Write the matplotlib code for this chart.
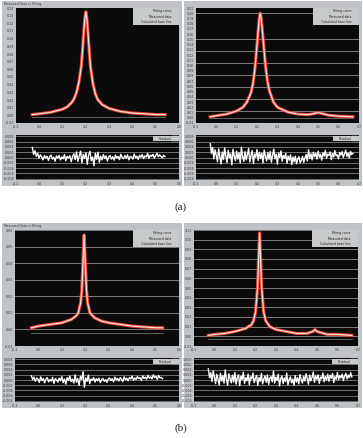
"""
Fitting results: measured data vs Lorentzian fit, with residuals.
Four instrument-style panels, (a) on top, (b) below.
"""
import matplotlib
matplotlib.use("Agg")
import matplotlib.pyplot as plt
from matplotlib.patches import Rectangle
import numpy as np

W, H = 363, 438
GRAY = "#bfc3c5"
PLOT_BG = "#0b0b0b"
RED = "#e5412f"
FIT = "#f6dede"
GRID = "#a8a8a8"
TXT = "#3a3a3a"

# ---------------- data ---------------- #
# (a) left: peak near 0.20
X_A_LEFT = [-0.03, 0.0, 0.05, 0.10, 0.12, 0.14, 0.15, 0.16, 0.17, 0.18, 0.185,
            0.19, 0.195, 0.20, 0.205, 0.21, 0.215, 0.22, 0.23, 0.24, 0.25,
            0.27, 0.30, 0.35, 0.40, 0.45, 0.50, 0.54]
FIT_A_LEFT = [0.001, 0.002, 0.004, 0.008, 0.011, 0.017, 0.022, 0.030, 0.043,
              0.063, 0.082, 0.104, 0.125, 0.135, 0.125, 0.104, 0.082, 0.063,
              0.042, 0.029, 0.021, 0.014, 0.009, 0.005, 0.003, 0.002, 0.001,
              0.001]
BASE_A_LEFT = [-0.002, -0.002]

# (a) right: wider peak near 0.215, small bump near 0.50
X_A_RIGHT = [-0.03, 0.0, 0.05, 0.10, 0.13, 0.15, 0.17, 0.18, 0.19, 0.20, 0.21,
             0.215, 0.22, 0.23, 0.24, 0.25, 0.26, 0.28, 0.30, 0.35, 0.40,
             0.45, 0.48, 0.50, 0.52, 0.55, 0.60, 0.67]
FIT_A_RIGHT = [0.002, 0.004, 0.007, 0.013, 0.020, 0.030, 0.048, 0.066, 0.097,
               0.142, 0.188, 0.200, 0.190, 0.148, 0.104, 0.072, 0.052, 0.030,
               0.020, 0.011, 0.007, 0.006, 0.008, 0.010, 0.008, 0.005, 0.003,
               0.002]
BASE_A_RIGHT = [-0.001, -0.001]

# (b) left: narrow peak near 0.195
X_B_LEFT = [-0.03, 0.0, 0.05, 0.10, 0.14, 0.16, 0.17, 0.18, 0.185, 0.19, 0.195,
            0.20, 0.205, 0.21, 0.22, 0.24, 0.27, 0.30, 0.40, 0.50, 0.53]
FIT_B_LEFT = [0.001, 0.002, 0.003, 0.004, 0.006, 0.008, 0.010, 0.016, 0.023,
              0.040, 0.057, 0.040, 0.024, 0.016, 0.010, 0.007, 0.005, 0.004,
              0.002, 0.001, 0.001]
BASE_B_LEFT = [-0.002, -0.002]

# (b) right: narrow peak near 0.22, small bump near 0.49
X_B_RIGHT = [-0.03, 0.0, 0.05, 0.10, 0.15, 0.18, 0.19, 0.20, 0.21, 0.215, 0.22,
             0.225, 0.23, 0.24, 0.25, 0.27, 0.30, 0.35, 0.40, 0.45, 0.48, 0.49,
             0.50, 0.55, 0.60, 0.67]
FIT_B_RIGHT = [0.001, 0.002, 0.003, 0.005, 0.008, 0.012, 0.016, 0.025, 0.050,
               0.080, 0.107, 0.080, 0.050, 0.025, 0.016, 0.010, 0.007, 0.005,
               0.003, 0.003, 0.005, 0.007, 0.005, 0.002, 0.002, 0.001]
BASE_B_RIGHT = [-0.003, -0.003]

# residuals, in units of 1e-3
RES_A_LEFT = [
    3.8, 1.2, 2.5, 0.4, 1.6, -0.3, 1.0, 0.2, -0.9, 0.7,
    -0.2, 0.5, -1.1, 0.3, 0.9, -0.6, 0.1, -1.4, 0.6, -0.3,
    0.8, -0.9, 0.2, -0.5, 1.1, -1.2, 0.4, -0.2, 0.7, -1.6,
    0.3, 1.4, -0.8, 2.1, -1.5, 0.6, 2.4, -2.0, 1.2, -0.4,
    1.8, -2.6, 0.9, 2.3, -1.3, 0.2, -3.1, 1.6, -0.7, 2.0,
    -1.8, 0.5, -0.9, 1.1, -0.4, 0.6, -1.3, 0.2, 0.8, -0.6,
    0.3, -1.0, 0.9, -0.2, 0.4, -0.8, 1.2, 0.0, -0.5, 0.7,
    -0.3, 1.0, -0.9, 0.4, 0.2, -0.6, 1.3, -0.1, 0.5, -0.7,
    0.8, 0.1, 1.1, -0.4, 0.6, 0.2, 1.5, -0.3, 0.9, 0.4,
    1.2, -0.2, 0.7, 1.6, 0.3, 1.0, 0.5, -0.1, 0.8, 0.4]
RES_A_RIGHT = [
    5.2, 1.5, 3.8, -0.5, 2.9, 0.8, -1.6, 3.3, 0.2, -2.4,
    2.1, -0.8, 3.6, 0.5, -1.9, 2.7, -0.2, 1.4, -2.8, 3.1,
    0.6, -1.2, 2.4, -0.6, 1.8, -2.1, 3.9, 0.3, -1.5, 2.2,
    -0.9, 1.1, 3.4, -1.7, 0.7, 2.6, -2.3, 1.3, 0.1, 3.0,
    -1.1, 2.0, -0.4, 1.6, -2.0, 2.8, 0.4, -1.3, 1.9, -0.7,
    2.3, -1.8, 0.9, 3.2, -0.5, 1.2, -2.5, 1.7, 0.0, 2.5,
    -1.4, 0.8, -0.3, 1.5, -2.2, 0.6, -1.0, 1.0, -2.7, 0.2,
    -1.6, 0.5, -2.4, -0.6, 0.3, -2.0, -1.1, 0.4, -1.8, -0.2,
    1.1, -1.3, 2.9, -0.4, 1.4, -0.9, 2.0, 0.3, 1.6, -0.6,
    2.4, 0.1, 1.2, -1.0, 1.8, 0.5, 2.7, -0.3, 1.3, 0.7,
    2.1, -0.8, 1.5, 0.2, 2.6, 0.6, 1.0, -0.5, 1.9, 0.9,
    2.2, 0.0, 1.4, 2.8, 0.4, 1.7, -0.2, 2.3, 1.1, 1.6]
RES_B_LEFT = [
    1.6, 0.2, 1.1, -0.5, 0.8, 0.3, -0.9, 1.2, -0.2, 0.6,
    -1.1, 0.4, 0.9, -0.7, 0.2, -0.4, 1.0, -1.3, 0.5, 0.1,
    -0.8, 0.7, -0.3, 1.3, -1.0, 0.4, -1.6, 0.9, -0.2, 1.5,
    -0.6, 0.3, -1.2, 2.0, -0.9, 0.6, -2.1, 1.4, 0.2, 3.2,
    -2.8, 0.8, -0.5, 1.9, -1.4, 0.4, -0.1, 0.9, -0.8, 0.5,
    -0.3, 0.7, -1.0, 0.2, 0.6, -0.5, 0.1, -0.9, 0.4, 0.8,
    -0.2, 0.5, -0.7, 1.1, 0.0, 0.6, -0.4, 0.9, 0.3, -0.6,
    1.2, 0.1, 0.7, -0.3, 1.0, 0.4, 1.5, -0.1, 0.8, 0.2,
    1.3, 0.5, 0.9, -0.2, 1.6, 0.6, 1.1, 0.3, 1.8, 0.7,
    1.2, 0.4, 2.0, 0.9, 1.4, 0.2, 1.7, 0.8, 1.0, 0.5]
RES_B_RIGHT = [
    4.3, 0.9, 2.8, -0.6, 3.5, 1.2, -1.4, 2.2, 0.3, -1.9,
    2.6, -0.4, 1.7, -1.2, 3.9, 0.1, -2.0, 2.4, 0.7, -1.1,
    1.9, -0.8, 2.9, -1.6, 0.8, 2.1, -2.2, 1.5, 0.2, 3.0,
    -1.3, 0.9, -0.3, 2.3, -1.8, 1.2, 0.4, 2.7, -1.0, 0.6,
    1.8, -2.1, 1.0, -0.5, 2.5, -1.5, 0.3, 1.6, -0.9, 2.0,
    -1.7, 0.7, 1.3, -0.7, 3.4, -1.2, 1.1, -0.2, 2.2, -2.3,
    0.5, 1.5, -1.4, 0.8, -0.6, 2.6, -1.9, 0.2, 1.2, -1.1,
    0.4, -2.0, 1.7, -0.8, 0.9, -1.5, 2.1, 0.1, -1.2, 1.4,
    -0.4, 2.4, 0.6, -1.6, 1.9, -0.3, 1.0, 3.1, -0.9, 1.6,
    0.2, 2.0, -1.3, 1.1, 0.5, 2.7, -0.7, 1.4, 0.0, 2.2,
    -0.5, 1.8, 0.7, 2.5, -1.0, 1.3, 0.3, 2.9, 0.1, 1.7,
    0.8, 2.3, -0.2, 1.5, 2.6, 0.4, 1.9, 0.9, 2.8, 1.2]

GRID_A_RIGHT = [0.0125, 0.035, 0.059, 0.082, 0.105, 0.128, 0.151, 0.200]
LEGEND_LABELS = ["Fitting curve", "Measured data", "Calculated base line"]

TICK_FS = 2.3


def box(x0, y0, x1, y1):
    """pixel box (top-left origin) -> figure fraction rect"""
    return [x0 / W, 1 - y1 / H, (x1 - x0) / W, (y1 - y0) / H]


def style(ax, xlim, ylim, yticks, yfmt):
    ax.set_facecolor(PLOT_BG)
    ax.set_xlim(*xlim); ax.set_ylim(*ylim)
    ax.set_xticks(np.round(np.arange(xlim[0], xlim[1] + 1e-9, 0.1), 2))
    ax.set_yticks(yticks)
    ax.xaxis.set_major_formatter(matplotlib.ticker.FormatStrFormatter("%.1f"))
    ax.yaxis.set_major_formatter(matplotlib.ticker.FormatStrFormatter(yfmt))
    ax.tick_params(length=0, pad=1.2, labelsize=TICK_FS, labelcolor=TXT)
    for s in ax.spines.values():
        s.set_visible(False)


def icon(ax, x, y, h):
    ax.add_patch(Rectangle((x, y), 0.035, h, transform=ax.transAxes,
                           facecolor="#1a1a1a", edgecolor="#e0e0e0", lw=0.3))


def main_panel(rect, x, fit, base, xlim, ylim, yticks, grid):
    ax = fig.add_axes(rect)
    style(ax, xlim, ylim, yticks, "%.2f")
    for g in grid:
        ax.axhline(g, color=GRID, lw=0.5, zorder=1)
    ax.plot([x[0], x[-1]], base, color="#707070", lw=0.6, zorder=2)
    ax.plot(x, fit, color=RED, lw=2.3, zorder=3, solid_joinstyle="round")
    ax.plot(x, fit, color=FIT, lw=0.9, zorder=4)
    # legend box
    ax.add_patch(Rectangle((0.72, 0.855), 0.28, 0.145, transform=ax.transAxes,
                           facecolor="#c7cacb", edgecolor="none", zorder=5))
    for i, lab in enumerate(LEGEND_LABELS):
        yy = 0.972 - i * 0.046
        ax.text(0.955, yy, lab, transform=ax.transAxes, fontsize=2.2,
                ha="right", va="center", color="#202020", zorder=6)
        icon(ax, 0.96, yy - 0.018, 0.036)
    return ax


def resid_panel(rect, x0, x1, res, xlim):
    ax = fig.add_axes(rect)
    ticks = [-0.008, -0.006, -0.004, -0.002, 0.0, 0.002, 0.004, 0.006, 0.008]
    style(ax, xlim, (-0.0085, 0.0085), ticks, "%.3f")
    for g in ticks:
        ax.axhline(g, color=GRID, lw=0.45, zorder=1)
    xs = np.linspace(x0, x1, len(res))
    ax.plot(xs, np.array(res) * 1e-3, color="white", lw=1.0, zorder=3)
    ax.add_patch(Rectangle((0.84, 0.86), 0.16, 0.12, transform=ax.transAxes,
                           facecolor="#c7cacb", edgecolor="none", zorder=5))
    ax.text(0.955, 0.92, "Residual", transform=ax.transAxes, fontsize=2.2,
            ha="right", va="center", color="#202020", zorder=6)
    icon(ax, 0.96, 0.87, 0.1)
    return ax


fig = plt.figure(figsize=(W / 100, H / 100), dpi=100)
fig.patch.set_facecolor("white")

# gray instrument panels
for (x0, y0, x1, y1) in [(2, 1, 182, 186), (184, 1, 362, 186),
                         (2, 223, 182, 408), (184, 223, 362, 408)]:
    r = box(x0, y0, x1, y1)
    fig.add_artist(Rectangle((r[0], r[1]), r[2], r[3], transform=fig.transFigure,
                             facecolor=GRAY, edgecolor="none", zorder=0))
for ytop in (1, 223):
    fig.text(4 / W, 1 - (ytop + 3) / H, "Measured Data vs Fitting",
             fontsize=2.2, color=TXT, va="center")

yt_al = np.round(np.arange(-0.01, 0.1401, 0.01), 2)
yt_ar = np.round(np.arange(-0.01, 0.2101, 0.01), 2)
yt_bl = np.round(np.arange(-0.01, 0.0601, 0.01), 2)
yt_br = np.round(np.arange(-0.01, 0.1101, 0.01), 2)

# (a)
main_panel(box(16, 8, 179, 123), X_A_LEFT, FIT_A_LEFT, BASE_A_LEFT,
           (-0.1, 0.6), (-0.01, 0.14), yt_al, [])
main_panel(box(196, 8, 359, 123), X_A_RIGHT, FIT_A_RIGHT, BASE_A_RIGHT,
           (-0.1, 0.7), (-0.01, 0.21), yt_ar, GRID_A_RIGHT)
resid_panel(box(16, 135, 179, 180), -0.03, 0.54, RES_A_LEFT, (-0.1, 0.6))
resid_panel(box(196, 135, 359, 180), -0.03, 0.67, RES_A_RIGHT, (-0.1, 0.7))

# (b)
main_panel(box(15, 230, 179, 346), X_B_LEFT, FIT_B_LEFT, BASE_B_LEFT,
           (-0.1, 0.6), (-0.01, 0.06), yt_bl, yt_bl[1:])
main_panel(box(194, 230, 358, 346), X_B_RIGHT, FIT_B_RIGHT, BASE_B_RIGHT,
           (-0.1, 0.7), (-0.01, 0.11), yt_br, yt_br[1:])
resid_panel(box(15, 358, 179, 402), -0.03, 0.53, RES_B_LEFT, (-0.1, 0.6))
resid_panel(box(194, 358, 358, 402), -0.03, 0.67, RES_B_RIGHT, (-0.1, 0.7))

for lab, ypx in [("(a)", 207), ("(b)", 428)]:
    fig.text(181 / W, 1 - ypx / H, lab, fontsize=8, ha="center", va="center",
             family=["Liberation Serif", "DejaVu Serif"], color="#222222")

fig.savefig("out.png", dpi=100)
